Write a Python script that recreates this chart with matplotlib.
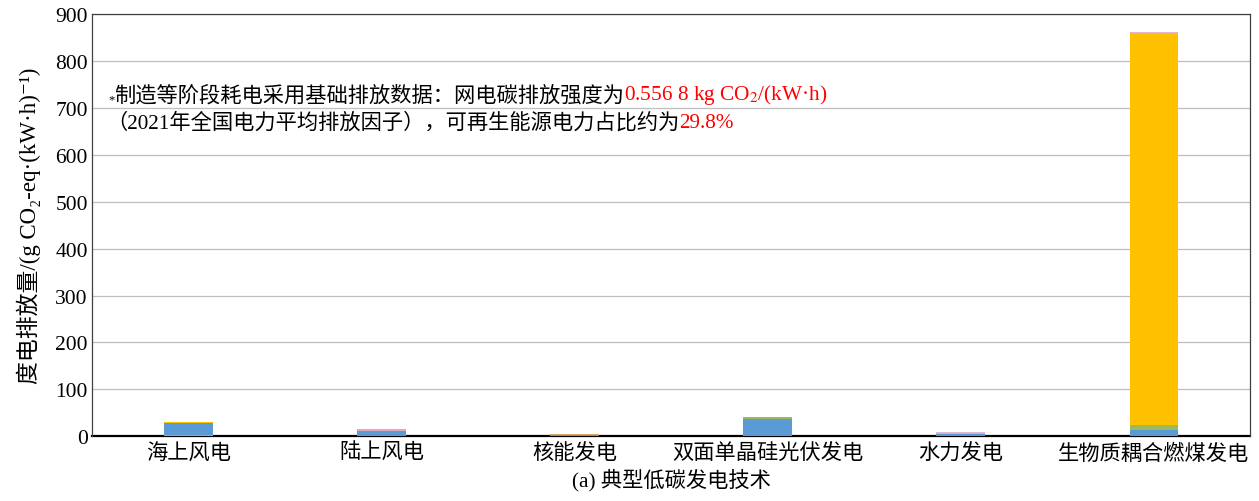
import matplotlib
matplotlib.use("Agg")
import matplotlib.pyplot as plt
import numpy as np

plt.rcParams['font.family'] = ['Liberation Serif', 'Noto Sans CJK SC', 'DejaVu Sans']
plt.rcParams['mathtext.fontset'] = 'stix'

categories = ["海上风电", "陆上风电", "核能发电", "双面单晶硅光伏发电", "水力发电", "生物质耦合燃煤发电"]

# Life-cycle emission components (g CO2-eq per kWh), stacked bottom to top
seg_purple = [1.5, 0, 0, 0, 0, 0]
seg_lavender = [1.5, 0, 0, 0, 0, 0]
seg_blue = [26, 11.5, 3, 36, 4, 13]
seg_pink = [0, 3, 0, 0, 0, 0]
seg_tan = [0, 0, 1.5, 0, 0, 0]
seg_green = [0, 0, 0, 5.5, 0, 12]
seg_yellow = [2, 0, 0, 0, 3, 835]
seg_lilac = [0, 0, 0, 0, 2.5, 2]

segments = [
    (seg_purple, "#7B3FA0"),
    (seg_lavender, "#A99BD6"),
    (seg_blue, "#5B9BD5"),
    (seg_pink, "#E3A6C2"),
    (seg_tan, "#D9A46A"),
    (seg_green, "#9BBB59"),
    (seg_yellow, "#FFC000"),
    (seg_lilac, "#E2B7CF"),
]

fig = plt.figure(figsize=(12.59, 5.02), dpi=100)
ax = fig.add_axes([0.073, 0.129, 0.920, 0.841])

x = np.arange(len(categories))
bottom = np.zeros(len(categories))
for vals, color in segments:
    v = np.array(vals, dtype=float)
    ax.bar(x, v, width=0.25, bottom=bottom, color=color, edgecolor='none', zorder=3)
    bottom += v

ax.set_xlim(-0.5, len(categories) - 0.5)
ax.set_ylim(0, 900)
ax.set_yticks(np.arange(0, 901, 100))
ax.set_xticks(x)
ax.set_xticklabels(categories, fontsize=15.3)
ax.tick_params(axis='y', labelsize=15.5, length=0, pad=3)
ax.tick_params(axis='x', length=0, pad=5)
ax.yaxis.grid(True, color='#BFBFBF', linewidth=0.9, zorder=0)
ax.set_axisbelow(True)
for s in ['top', 'right', 'left']:
    ax.spines[s].set_color('#404040')
    ax.spines[s].set_linewidth(0.9)
ax.spines['bottom'].set_color('black')
ax.spines['bottom'].set_linewidth(1.6)
ax.spines['bottom'].set_zorder(2)

ax.set_ylabel("度电排放量/(g CO₂-eq·(kW·h)⁻¹)", fontsize=16.5, labelpad=10)
ax.set_xlabel("(a) 典型低碳发电技术", fontsize=15.3, labelpad=3)

# Note text, with the numeric parts in red
fs = 15.3
t_star = ax.text(0.014, 0.79, "*", transform=ax.transAxes, fontsize=9, va='baseline', ha='left')
t1 = ax.annotate("制造等阶段耗电采用基础排放数据：网电碳排放强度为", xy=(1, 0), xycoords=t_star,
                 fontsize=fs, va='bottom', ha='left')
ax.annotate(r"0.556 8 kg CO$_2$/(kW·h)", xy=(1, 0), xycoords=t1,
            fontsize=fs, va='bottom', ha='left', color='#FF0000')
t2 = ax.text(0.012, 0.732, "（2021年全国电力平均排放因子），可再生能源电力占比约为",
             transform=ax.transAxes, fontsize=fs, va='baseline', ha='left')
ax.annotate("29.8%", xy=(1, 0), xycoords=t2, fontsize=fs, va='bottom', ha='left', color='#FF0000')

fig.savefig("out.png", dpi=100)
